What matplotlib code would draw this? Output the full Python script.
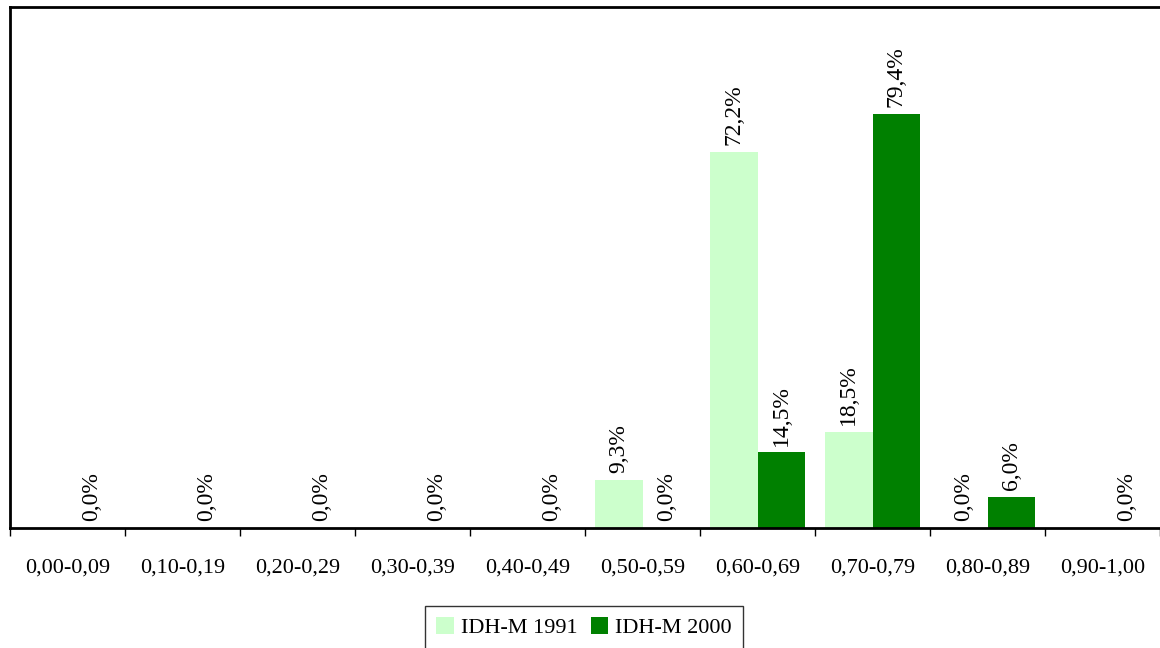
import matplotlib
matplotlib.use("Agg")
import matplotlib.pyplot as plt
import numpy as np

faixas = ['0,00-0,09', '0,10-0,19', '0,20-0,29', '0,30-0,39', '0,40-0,49',
          '0,50-0,59', '0,60-0,69', '0,70-0,79', '0,80-0,89', '0,90-1,00']
# None = faixa sem valor em 1991 (sem rótulo)
idh_1991 = [None, None, None, None, None, 9.3, 72.2, 18.5, 0.0, None]
idh_2000 = [0.0, 0.0, 0.0, 0.0, 0.0, 0.0, 14.5, 79.4, 6.0, 0.0]

cor_1991 = '#ccffcc'
cor_2000 = '#008000'

plt.rcParams['font.family'] = ['Liberation Serif', 'DejaVu Serif']

fig = plt.figure(figsize=(11.6, 6.48), dpi=100)
ax = fig.add_axes([10 / 1160, 120 / 648, 1150 / 1160, 521 / 648])

x = np.arange(len(faixas))
larg = 0.417

v91 = [np.nan if v is None else v for v in idh_1991]
b1 = ax.bar(x - larg / 2, v91, larg, color=cor_1991, label='IDH-M 1991')
b2 = ax.bar(x + larg / 2, idh_2000, larg, color=cor_2000, label='IDH-M 2000')

def rotulos(barras, valores):
    for barra, v in zip(barras, valores):
        if v is None:
            continue
        ax.annotate(f'{v:.1f}%'.replace('.', ','),
                    (barra.get_x() + barra.get_width() / 2, v),
                    xytext=(0, 5), textcoords='offset points',
                    rotation=90, ha='center', va='bottom', fontsize=17)

rotulos(b1, idh_1991)
rotulos(b2, idh_2000)

ax.set_xlim(-0.5, len(faixas) - 0.5)
ax.set_ylim(0, 100)
ax.set_yticks([])
ax.set_xticks(np.arange(len(faixas) + 1) - 0.5)
ax.set_xticklabels([])
ax.set_xticks(x, minor=True)
ax.set_xticklabels(faixas, minor=True, fontsize=16)
ax.tick_params(axis='x', which='major', direction='out', length=6, width=1)
ax.tick_params(axis='x', which='minor', length=0, pad=22)
for lado in ['left', 'top', 'bottom']:
    ax.spines[lado].set_linewidth(2)
ax.spines['right'].set_visible(False)

leg = fig.legend(loc='upper center', bbox_to_anchor=(584 / 1160, 1 - 606 / 648), ncol=2,
                 fontsize=16, frameon=True, fancybox=False, edgecolor='black',
                 handlelength=0.8, handleheight=0.8, handletextpad=0.3,
                 columnspacing=0.6, borderpad=0.5, borderaxespad=0)
leg.get_frame().set_linewidth(1)

fig.savefig('out.png', dpi=100)
